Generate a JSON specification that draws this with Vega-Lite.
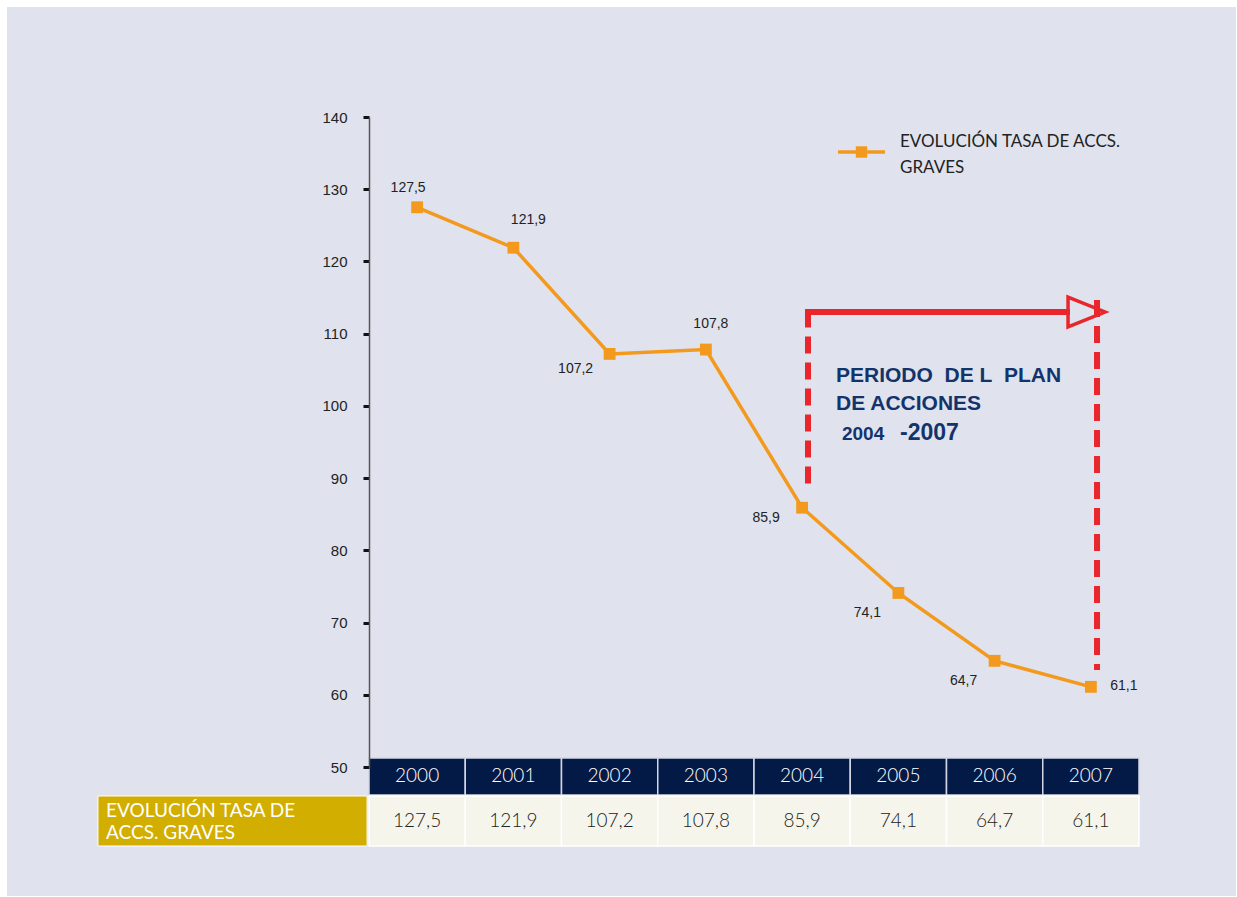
{
  "$schema": "https://vega.github.io/schema/vega-lite/v6.json",
  "width": 770,
  "height": 650,
  "autosize": {"type": "none"},
  "padding": {"left": 369, "top": 117, "right": 98, "bottom": 130},
  "background": "#ffffff",
  "config": {
    "view": {"stroke": null},
    "locale": {"number": {"decimal": ",", "thousands": ".", "grouping": [3], "currency": ["", " €"]}}
  },
  "data": {
    "values": [
      {"year": 2000, "tasa": 127.5},
      {"year": 2001, "tasa": 121.9},
      {"year": 2002, "tasa": 107.2},
      {"year": 2003, "tasa": 107.8},
      {"year": 2004, "tasa": 85.9},
      {"year": 2005, "tasa": 74.1},
      {"year": 2006, "tasa": 64.7},
      {"year": 2007, "tasa": 61.1}
    ]
  },
  "layer": [
    {
      "data": {"values": [{}]},
      "mark": {"type": "rect", "color": "#e0e2ee"},
      "encoding": {
        "x": {"datum": 1995.739, "type": "quantitative", "scale": {"domain": [1999.5, 2007.5], "nice": false, "zero": false, "padding": 0}, "axis": null},
        "x2": {"datum": 2008.508},
        "y": {"datum": 155.23, "type": "quantitative", "scale": {"domain": [50, 140], "nice": false, "zero": false, "padding": 0},
          "axis": {"title": null, "values": [50, 60, 70, 80, 90, 100, 110, 120, 130, 140], "format": "d", "grid": false, "zindex": 1,
            "domainColor": "#555555", "domainWidth": 1.5, "tickColor": "#111111", "tickWidth": 3, "tickSize": 6,
            "labelFont": "Liberation Sans", "labelFontSize": 15, "labelColor": "#222222", "labelPadding": 16}},
        "y2": {"datum": 32.138}
      }
    },
    {
      "data": {"values": [{}]},
      "mark": {"type": "rect", "color": "#d2ae00", "stroke": "#ffffff", "strokeWidth": 1},
      "encoding": {
        "x": {"datum": 1996.684, "type": "quantitative"},
        "x2": {"datum": 1999.48},
        "y": {"datum": 45.985, "type": "quantitative"},
        "y2": {"datum": 39.06}
      }
    },
    {
      "mark": {"type": "bar", "width": 96.25, "color": "#041a46", "stroke": "#d4d7e3", "strokeWidth": 1.5},
      "encoding": {
        "x": {"field": "year", "type": "quantitative", "title": null},
        "y": {"datum": 51.246, "type": "quantitative"},
        "y2": {"datum": 46.123}
      }
    },
    {
      "mark": {"type": "bar", "width": 96.25, "color": "#f5f5eb", "stroke": "#ffffff", "strokeWidth": 1.5},
      "encoding": {
        "x": {"field": "year", "type": "quantitative", "title": null},
        "y": {"datum": 45.985, "type": "quantitative"},
        "y2": {"datum": 39.06}
      }
    },
    {
      "mark": {"type": "text", "font": "Lato", "fontSize": 19, "fontWeight": 300, "color": "#ffffff", "align": "center", "baseline": "middle"},
      "encoding": {
        "x": {"field": "year", "type": "quantitative", "title": null},
        "y": {"datum": 48.754, "type": "quantitative"},
        "text": {"field": "year", "type": "nominal"}
      }
    },
    {
      "mark": {"type": "text", "font": "Lato", "fontSize": 19, "fontWeight": 300, "color": "#222222", "align": "center", "baseline": "middle"},
      "encoding": {
        "x": {"field": "year", "type": "quantitative", "title": null},
        "y": {"datum": 42.523, "type": "quantitative"},
        "text": {"field": "tasa", "type": "quantitative", "format": ".1f"}
      }
    },
    {
      "data": {"values": [{}]},
      "mark": {"type": "text", "font": "Lato", "fontSize": 19, "color": "#ffffff", "align": "left", "baseline": "alphabetic", "lineHeight": 22},
      "encoding": {
        "x": {"datum": 1996.768, "type": "quantitative"},
        "y": {"datum": 43.077, "type": "quantitative"},
        "text": {"value": ["EVOLUCIÓN TASA DE", "ACCS. GRAVES"]}
      }
    },
    {
      "mark": {"type": "line", "color": "#f39a1e", "strokeWidth": 3.5},
      "encoding": {
        "x": {"field": "year", "type": "quantitative", "title": null},
        "y": {"field": "tasa", "type": "quantitative", "title": null}
      }
    },
    {
      "mark": {"type": "square", "color": "#f39a1e", "filled": true, "opacity": 1, "size": 140},
      "encoding": {
        "x": {"field": "year", "type": "quantitative", "title": null},
        "y": {"field": "tasa", "type": "quantitative", "title": null}
      }
    },
    {
      "transform": [{"filter": "datum.year == 2000"}],
      "mark": {"type": "text", "font": "Liberation Sans", "fontSize": 14, "color": "#222222", "align": "center", "baseline": "middle", "dx": -9, "dy": -19},
      "encoding": {"x": {"field": "year", "type": "quantitative"}, "y": {"field": "tasa", "type": "quantitative"}, "text": {"field": "tasa", "type": "quantitative", "format": ".1f"}}
    },
    {
      "transform": [{"filter": "datum.year == 2001"}],
      "mark": {"type": "text", "font": "Liberation Sans", "fontSize": 14, "color": "#222222", "align": "center", "baseline": "middle", "dx": 15, "dy": -28},
      "encoding": {"x": {"field": "year", "type": "quantitative"}, "y": {"field": "tasa", "type": "quantitative"}, "text": {"field": "tasa", "type": "quantitative", "format": ".1f"}}
    },
    {
      "transform": [{"filter": "datum.year == 2002"}],
      "mark": {"type": "text", "font": "Liberation Sans", "fontSize": 14, "color": "#222222", "align": "center", "baseline": "middle", "dx": -34, "dy": 15},
      "encoding": {"x": {"field": "year", "type": "quantitative"}, "y": {"field": "tasa", "type": "quantitative"}, "text": {"field": "tasa", "type": "quantitative", "format": ".1f"}}
    },
    {
      "transform": [{"filter": "datum.year == 2003"}],
      "mark": {"type": "text", "font": "Liberation Sans", "fontSize": 14, "color": "#222222", "align": "center", "baseline": "middle", "dx": 5, "dy": -26},
      "encoding": {"x": {"field": "year", "type": "quantitative"}, "y": {"field": "tasa", "type": "quantitative"}, "text": {"field": "tasa", "type": "quantitative", "format": ".1f"}}
    },
    {
      "transform": [{"filter": "datum.year == 2004"}],
      "mark": {"type": "text", "font": "Liberation Sans", "fontSize": 14, "color": "#222222", "align": "center", "baseline": "middle", "dx": -36, "dy": 10},
      "encoding": {"x": {"field": "year", "type": "quantitative"}, "y": {"field": "tasa", "type": "quantitative"}, "text": {"field": "tasa", "type": "quantitative", "format": ".1f"}}
    },
    {
      "transform": [{"filter": "datum.year == 2005 || datum.year == 2006"}],
      "mark": {"type": "text", "font": "Liberation Sans", "fontSize": 14, "color": "#222222", "align": "center", "baseline": "middle", "dx": -31, "dy": 20},
      "encoding": {"x": {"field": "year", "type": "quantitative"}, "y": {"field": "tasa", "type": "quantitative"}, "text": {"field": "tasa", "type": "quantitative", "format": ".1f"}}
    },
    {
      "transform": [{"filter": "datum.year == 2007"}],
      "mark": {"type": "text", "font": "Liberation Sans", "fontSize": 14, "color": "#222222", "align": "center", "baseline": "middle", "dx": 33, "dy": -1},
      "encoding": {"x": {"field": "year", "type": "quantitative"}, "y": {"field": "tasa", "type": "quantitative"}, "text": {"field": "tasa", "type": "quantitative", "format": ".1f"}}
    },
    {
      "data": {"values": [{}]},
      "mark": {"type": "rule", "color": "#e8262b", "strokeWidth": 6, "strokeDash": [17, 9]},
      "encoding": {
        "x": {"datum": 2004.061, "type": "quantitative"},
        "y": {"datum": 113.2, "type": "quantitative"},
        "y2": {"datum": 88.354}
      }
    },
    {
      "data": {"values": [{}]},
      "mark": {"type": "rule", "color": "#e8262b", "strokeWidth": 6},
      "encoding": {
        "x": {"datum": 2004.03, "type": "quantitative"},
        "x2": {"datum": 2006.783},
        "y": {"datum": 113.0, "type": "quantitative"}
      }
    },
    {
      "data": {"values": [{}]},
      "mark": {"type": "rule", "color": "#e8262b", "strokeWidth": 6, "strokeDash": [17, 9]},
      "encoding": {
        "x": {"datum": 2007.064, "type": "quantitative"},
        "y": {"datum": 114.662, "type": "quantitative"},
        "y2": {"datum": 63.43}
      }
    },
    {
      "data": {"values": [{}]},
      "mark": {"type": "point", "shape": "M-1,-0.81L1,0L-1,0.81Z", "size": 1369, "filled": false, "color": "#e8262b", "strokeWidth": 3.5, "opacity": 1},
      "encoding": {
        "x": {"datum": 2006.955, "type": "quantitative"},
        "y": {"datum": 113.0, "type": "quantitative"}
      }
    },
    {
      "data": {"values": [{}]},
      "mark": {"type": "text", "font": "Liberation Sans", "fontSize": 21, "fontWeight": "bold", "color": "#12346b", "align": "left", "baseline": "alphabetic", "lineHeight": 27.5},
      "encoding": {
        "x": {"datum": 2004.352, "type": "quantitative"},
        "y": {"datum": 103.3, "type": "quantitative"},
        "text": {"value": ["PERIODO\u00a0 DE L\u00a0 PLAN", "DE ACCIONES"]}
      }
    },
    {
      "data": {"values": [{}]},
      "mark": {"type": "text", "font": "Liberation Sans", "fontSize": 19, "fontWeight": "bold", "color": "#12346b", "align": "left", "baseline": "alphabetic"},
      "encoding": {
        "x": {"datum": 2004.414, "type": "quantitative"},
        "y": {"datum": 95.28, "type": "quantitative"},
        "text": {"value": "2004"}
      }
    },
    {
      "data": {"values": [{}]},
      "mark": {"type": "text", "font": "Liberation Sans", "fontSize": 23, "fontWeight": "bold", "color": "#12346b", "align": "left", "baseline": "alphabetic"},
      "encoding": {
        "x": {"datum": 2005.017, "type": "quantitative"},
        "y": {"datum": 95.28, "type": "quantitative"},
        "text": {"value": "-2007"}
      }
    },
    {
      "data": {"values": [{}]},
      "mark": {"type": "rule", "color": "#f39a1e", "strokeWidth": 3.5},
      "encoding": {
        "x": {"datum": 2004.373, "type": "quantitative"},
        "x2": {"datum": 2004.861},
        "y": {"datum": 135.154, "type": "quantitative"}
      }
    },
    {
      "data": {"values": [{}]},
      "mark": {"type": "square", "color": "#f39a1e", "filled": true, "opacity": 1, "size": 130},
      "encoding": {
        "x": {"datum": 2004.617, "type": "quantitative"},
        "y": {"datum": 135.154, "type": "quantitative"}
      }
    },
    {
      "data": {"values": [{}]},
      "mark": {"type": "text", "font": "Lato", "fontSize": 17, "color": "#222222", "align": "left", "baseline": "alphabetic", "lineHeight": 26},
      "encoding": {
        "x": {"datum": 2005.017, "type": "quantitative"},
        "y": {"datum": 135.846, "type": "quantitative"},
        "text": {"value": ["EVOLUCIÓN TASA DE ACCS.", "GRAVES"]}
      }
    }
  ]
}
